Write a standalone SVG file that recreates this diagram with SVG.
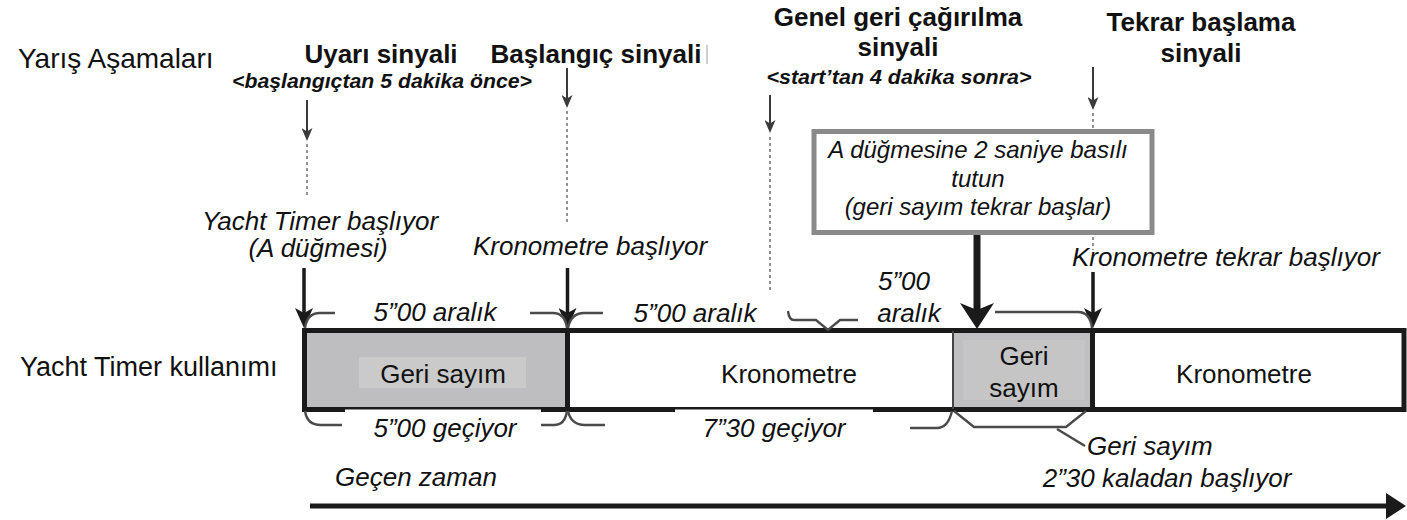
<svg xmlns="http://www.w3.org/2000/svg" width="1407" height="520" viewBox="0 0 1407 520">
<style>
text{font-family:"Liberation Sans",Arial,sans-serif;fill:#111}
.b{font-weight:bold;font-size:26px}
.bi{font-weight:bold;font-style:italic;font-size:20px}
.i{font-style:italic;font-size:26px}
.bx{font-style:italic;font-size:24px}
.r{font-size:26px}
.m{text-anchor:middle}
.thin{stroke:#3a3a3a;stroke-width:2;fill:none}
.dot{stroke:#777;stroke-width:1.6;stroke-dasharray:3 3;fill:none}
.mid{stroke:#1a1a1a;stroke-width:3.5;fill:none}
.big{stroke:#1a1a1a;stroke-width:7;fill:none}
.brace{stroke:#4a4a4a;stroke-width:2.4;fill:none}
</style>
<defs>
<marker id="ahThin" viewBox="0 0 13 11" refX="8" refY="5.5" markerWidth="13" markerHeight="11" markerUnits="userSpaceOnUse" orient="auto"><path d="M0,0 L13,5.5 L0,11 L3.5,5.5 z" fill="#3a3a3a"/></marker>
<marker id="ahMid" viewBox="0 0 20 18" refX="12" refY="9" markerWidth="20" markerHeight="18" markerUnits="userSpaceOnUse" orient="auto"><path d="M0,0 L20,9 L0,18 L5,9 z" fill="#1a1a1a"/></marker>
<marker id="ahBig" viewBox="0 0 26 34" refX="16" refY="17" markerWidth="26" markerHeight="34" markerUnits="userSpaceOnUse" orient="auto"><path d="M0,0 L26,17 L0,34 L7,17 z" fill="#1a1a1a"/></marker>
<marker id="ahLong" viewBox="0 0 20 26" refX="8" refY="13" markerWidth="20" markerHeight="26" markerUnits="userSpaceOnUse" orient="auto"><path d="M0,0 L20,13 L0,26 z" fill="#1a1a1a"/></marker>
</defs>
<rect width="1407" height="520" fill="#fff"/>

<g id="row-labels">
<text x="18" y="68" style="font-size:28px">Yarış Aşamaları</text>
<text x="20" y="376" style="font-size:27px">Yacht Timer kullanımı</text>
</g>

<g id="sig-warning">
<text class="b m" x="381" y="63">Uyarı sinyali</text>
<text class="bi m" x="382" y="88" textLength="300" lengthAdjust="spacingAndGlyphs">&lt;başlangıçtan 5 dakika önce&gt;</text>
</g>
<g id="sig-start">
<text class="b m" x="596" y="63">Başlangıç sinyali</text>
<line x1="707" y1="45" x2="707" y2="64" stroke="#cfcfcf" stroke-width="2"/>
</g>
<g id="sig-recall">
<text class="b m" x="898" y="26">Genel geri çağırılma</text>
<text class="b m" x="898" y="56">sinyali</text>
<text class="bi m" x="899" y="84" textLength="265" lengthAdjust="spacingAndGlyphs">&lt;start’tan 4 dakika sonra&gt;</text>
</g>
<g id="sig-restart">
<text class="b m" x="1201" y="31">Tekrar başlama</text>
<text class="b m" x="1201" y="62">sinyali</text>
</g>

<g id="lbl-timer-start">
<text class="i m" x="320" y="230">Yacht Timer başlıyor</text>
<text class="i m" x="318" y="257">(A düğmesi)</text>
</g>
<g id="lbl-chrono-start">
<text class="i m" x="590" y="255">Kronometre başlıyor</text>
</g>
<g id="lbl-chrono-restart">
<text class="i" x="1072" y="266">Kronometre tekrar başlıyor</text>
</g>

<g id="note-box">
<rect x="814" y="131.5" width="338" height="101" fill="#fff" stroke="#8a8a8a" stroke-width="5"/>
<text class="bx m" x="978" y="158">A düğmesine 2 saniye basılı</text>
<text class="bx m" x="978" y="187">tutun</text>
<text class="bx m" x="978" y="215">(geri sayım tekrar başlar)</text>
</g>

<g id="bar">
<rect x="304.5" y="330.5" width="1099.5" height="79" fill="#fff" stroke="#1a1a1a" stroke-width="5"/>
<rect x="307" y="333" width="258" height="74" fill="#bebec0"/>
<rect x="359" y="357" width="167" height="31" fill="#cacacb"/>
<rect x="953" y="333" width="138" height="74" fill="#bfbfc1"/>
<rect x="963" y="340" width="122" height="60" fill="#c5c5c6"/>
<line x1="953" y1="331" x2="953" y2="409" stroke="#444" stroke-width="2"/>
<line x1="567.5" y1="330" x2="567.5" y2="410" stroke="#1a1a1a" stroke-width="5"/>
<line x1="1092.5" y1="330" x2="1092.5" y2="410" stroke="#1a1a1a" stroke-width="5"/>
<rect x="345" y="409.5" width="196" height="2.5" fill="#fff"/>
<rect x="675" y="409.5" width="198" height="2.5" fill="#fff"/>
</g>
<g id="seg-countdown-1"><text class="r m" x="443" y="383">Geri sayım</text></g>
<g id="seg-chrono-1"><text class="r m" x="789" y="383">Kronometre</text></g>
<g id="seg-countdown-2"><text class="r m" x="1024" y="365">Geri</text><text class="r m" x="1024" y="397">sayım</text></g>
<g id="seg-chrono-2"><text class="r m" x="1244" y="383">Kronometre</text></g>

<g id="interval-labels">
<text class="i m" x="435" y="321">5”00 aralık</text>
<text class="i m" x="695" y="322">5”00 aralık</text>
<text class="i m" x="904" y="290">5”00</text>
<text class="i m" x="909" y="322">aralık</text>
<text class="i m" x="445" y="437">5”00 geçiyor</text>
<text class="i m" x="774" y="437">7”30 geçiyor</text>
<text class="i" x="1087" y="455">Geri sayım</text>
<text class="i m" x="1167" y="487">2”30 kaladan başlıyor</text>
<text class="i" x="335" y="486">Geçen zaman</text>
</g>

<g id="connectors">
<line class="thin" x1="307" y1="100" x2="307" y2="136" marker-end="url(#ahThin)"/>
<line class="dot" x1="307" y1="144" x2="307" y2="197"/>
<line class="thin" x1="567" y1="68" x2="567" y2="103" marker-end="url(#ahThin)"/>
<line class="dot" x1="567" y1="111" x2="567" y2="222"/>
<line class="thin" x1="770" y1="95" x2="770" y2="128" marker-end="url(#ahThin)"/>
<line class="dot" x1="770" y1="137" x2="770" y2="293"/>
<line class="thin" x1="1093" y1="67" x2="1093" y2="105" marker-end="url(#ahThin)"/>
<line class="dot" x1="1093" y1="113" x2="1093" y2="129"/>
<line class="dot" x1="1093" y1="237" x2="1093" y2="250"/>

<line class="mid" x1="304" y1="268" x2="304" y2="320" marker-end="url(#ahMid)"/>
<line class="mid" x1="567.5" y1="268" x2="567.5" y2="320" marker-end="url(#ahMid)"/>
<line class="mid" x1="1093" y1="272" x2="1093" y2="320" marker-end="url(#ahMid)"/>
<line class="big" x1="977" y1="235" x2="977" y2="319" marker-end="url(#ahBig)"/>

<path class="brace" d="M305 328 Q307 313 320 313 L335 313"/>
<path class="brace" d="M530 313 L553 313 Q565 313 567 328"/>
<path class="brace" d="M568 328 Q571 313 584 313 L603 313"/>
<path class="brace" d="M788 311 Q789 320 794 320 L816 320 L828 330 L840 320 L858 320"/>
<path class="brace" d="M995 312 L1078 312 Q1090 312 1092 328"/>

<path class="brace" d="M305 411 Q307 425 321 425 L342 425"/>
<path class="brace" d="M541 425 L554 425 Q565 425 567 411"/>
<path class="brace" d="M568 411 Q571 425 585 425 L605 425"/>
<path class="brace" d="M910 428 L937 428 Q948 428 952 411"/>
<path class="brace" d="M954 411 L974 427 L1066 427 L1086 411"/>
<path class="brace" d="M1057 429 L1085 446"/>

<line x1="310" y1="506" x2="1394" y2="506" stroke="#1a1a1a" stroke-width="5" marker-end="url(#ahLong)"/>
</g>
</svg>
